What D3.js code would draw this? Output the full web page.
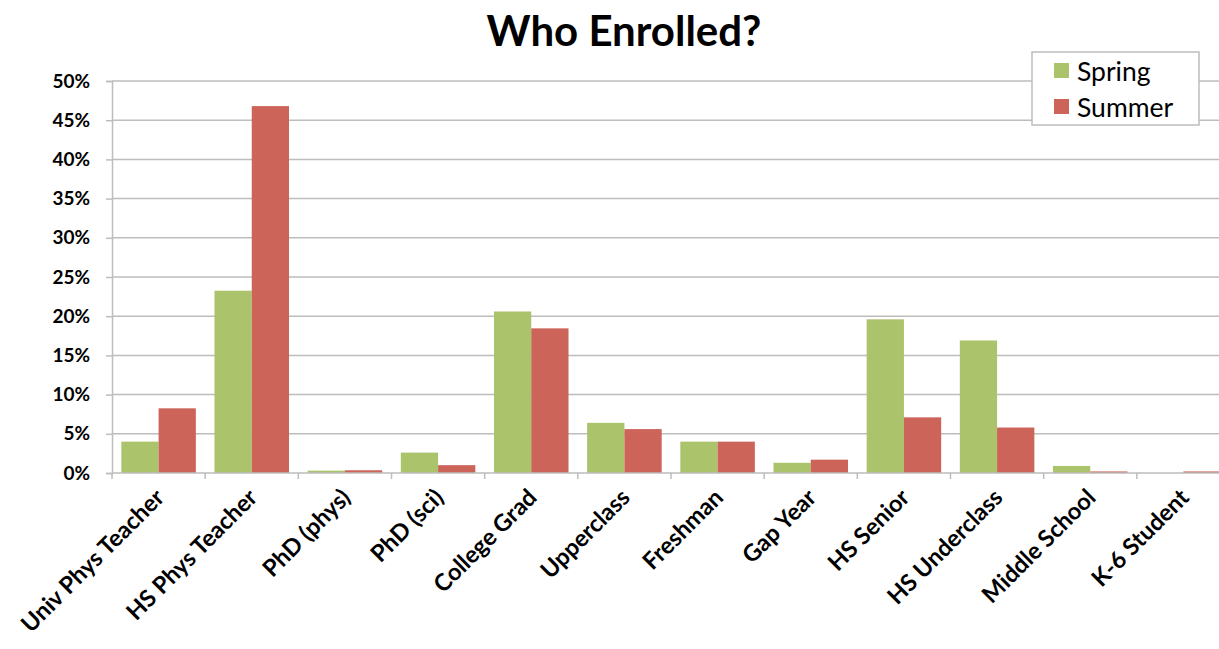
<!DOCTYPE html>
<html><head><meta charset="utf-8">
<script src="https://cdn.jsdelivr.net/npm/d3@7"></script>
<style>body{margin:0;background:#fff}svg{display:block}</style>
</head><body>
<svg id="c" width="1219" height="649"></svg>
<script>
const categories = ["Univ Phys Teacher","HS Phys Teacher","PhD (phys)","PhD (sci)","College Grad","Upperclass","Freshman","Gap Year","HS Senior","HS Underclass","Middle School","K-6 Student"];
const seriesNames = ["Spring","Summer"];
const spring = [4.0, 23.25, 0.3, 2.6, 20.6, 6.4, 4.0, 1.3, 19.6, 16.9, 0.9, 0];
const summer = [8.25, 46.8, 0.35, 1.0, 18.45, 5.6, 4.0, 1.7, 7.1, 5.8, 0.2, 0.2];
const yTicks = [0,5,10,15,20,25,30,35,40,45,50];
const colors = ["#abc36b","#cc6459"];
const chartTitle = "Who Enrolled?";

(function(){
const svg = d3.select("#c");
const font = "Lato, 'Open Sans', sans-serif";
const mLeft = 112, mRight = 1230, mTop = 81, mBottom = 473;

const x = d3.scaleBand().domain(categories).range([mLeft, mRight]).paddingInner(0.2).paddingOuter(0.1);
const xs = d3.scaleBand().domain(seriesNames).range([0, x.bandwidth()]);
const y = d3.scaleLinear().domain([0, 50]).range([mBottom, mTop]);

// gridlines
svg.append("g").selectAll("line").data(yTicks.filter(d=>d>0)).join("line")
  .attr("x1", mLeft).attr("x2", mRight).attr("y1", d=>y(d)).attr("y2", d=>y(d))
  .attr("stroke", "#bdbdbd").attr("stroke-width", 1.5);

// y axis
const yAxis = svg.append("g").attr("transform", `translate(${mLeft},0)`)
  .call(d3.axisLeft(y).tickValues(yTicks).tickFormat(d=>d+"%").tickSize(6).tickPadding(16));
yAxis.select(".domain").attr("stroke", "#bdbdbd").attr("stroke-width", 1.5);
yAxis.selectAll(".tick line").attr("stroke", "#bdbdbd").attr("stroke-width", 1.5);
yAxis.selectAll("text").attr("font-family", font).attr("font-weight", "bold").attr("font-size", 19).attr("fill", "#000");

// bars
const data = [spring, summer];
data.forEach((vals, si) => {
  svg.append("g").selectAll("rect").data(vals).join("rect")
    .attr("x", (d,i)=>x(categories[i]) + xs(seriesNames[si]))
    .attr("width", xs.bandwidth())
    .attr("y", d=>y(d))
    .attr("height", d=>y(0)-y(d))
    .attr("fill", colors[si]);
});

// x axis
const step = x.step();
const boundaries = d3.range(categories.length + 1).map(i => mLeft + i*step);
const xa = svg.append("g");
xa.append("line").attr("x1", mLeft).attr("x2", mRight).attr("y1", mBottom).attr("y2", mBottom)
  .attr("stroke", "#bdbdbd").attr("stroke-width", 1.5);
xa.selectAll("line.t").data(boundaries).join("line").attr("class","t")
  .attr("x1", d=>d).attr("x2", d=>d).attr("y1", mBottom).attr("y2", mBottom+6)
  .attr("stroke", "#bdbdbd").attr("stroke-width", 1.5);
xa.selectAll("text").data(categories).join("text")
  .attr("transform", d=>`translate(${x(d)+x.bandwidth()/2+7},${mBottom+26}) rotate(-45)`)
  .attr("text-anchor", "end")
  .attr("font-family", font).attr("font-weight", "bold").attr("font-size", 23.5)
  .text(d=>d);

// title
svg.append("text").attr("x", 624).attr("y", 46).attr("text-anchor", "middle")
  .attr("font-family", font).attr("font-weight", "bold").attr("font-size", 42).text(chartTitle);

// legend
const lg = svg.append("g");
lg.append("rect").attr("x", 1032).attr("y", 52).attr("width", 167).attr("height", 73)
  .attr("fill", "#fff").attr("stroke", "#bdbdbd").attr("stroke-width", 1.5);
seriesNames.forEach((s, i) => {
  lg.append("rect").attr("x", 1054).attr("y", 63 + i*36).attr("width", 15).attr("height", 15).attr("fill", colors[i]);
  lg.append("text").attr("x", 1077).attr("y", 81 + i*36).attr("font-family", font)
    .attr("font-size", 26.5).text(s);
});
})();
</script>
</body></html>
